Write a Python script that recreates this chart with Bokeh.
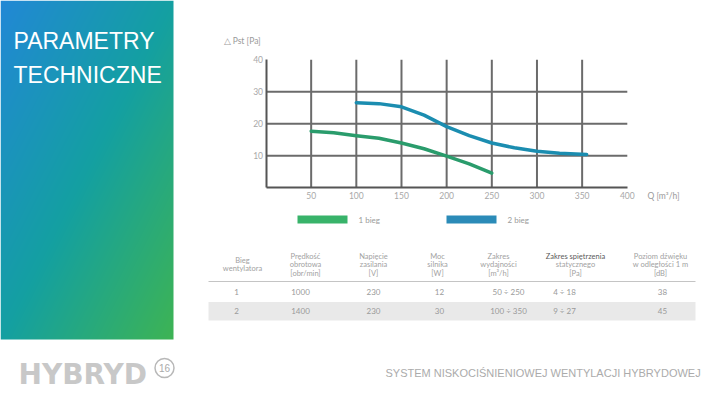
import numpy as np
from bokeh.plotting import figure
from bokeh.models import Range1d, LinearAxis, FixedTicker
from bokeh.core.properties import value
from bokeh.embed import file_html
from bokeh.resources import INLINE

# ---------------- chart data ----------------
q_bieg1 = [50, 75, 100, 125, 150, 175, 200, 225, 250]
p_bieg1 = [17.7, 17.2, 16.3, 15.5, 14.0, 12.2, 9.9, 7.5, 4.6]
q_bieg2 = [100, 125, 150, 175, 200, 225, 250, 275, 300, 325, 355]
p_bieg2 = [26.6, 26.3, 25.3, 22.7, 19.1, 16.3, 14.0, 12.5, 11.4, 10.8, 10.4]
series_names = ["1 bieg", "2 bieg"]
x_ticks = [50, 100, 150, 200, 250, 300, 350, 400]
y_ticks = [10, 20, 30, 40]
x_title = "Q [m³/h]"
y_title = "△ Pst [Pa]"

# ---------------- table data ----------------
table_header = [
    ["Bieg", "wentylatora"],
    ["Prędkość", "obrotowa", "[obr/min]"],
    ["Napięcie", "zasilania", "[V]"],
    ["Moc", "silnika", "[W]"],
    ["Zakres", "wydajności", "[m³/h]"],
    ["Zakres spiętrzenia", "statycznego", "[Pa]"],
    ["Poziom dźwięku", "w odległości 1 m", "[dB]"],
]
col_bieg = ["1", "2"]
col_speed = ["1000", "1400"]
col_voltage = ["230", "230"]
col_power = ["12", "30"]
col_flow = ["50 ÷ 250", "100 ÷ 350"]
col_pressure = ["4 ÷ 18", "9 ÷ 27"]
col_noise = ["38", "45"]

title_lines = ["PARAMETRY", "TECHNICZNE"]
brand = "HYBRYD"
page_no = "16"
footer = "SYSTEM NISKOCIŚNIENIOWEJ WENTYLACJI HYBRYDOWEJ"

# ---------------- layout (page pixels) ----------------
W, H = 704, 389
QX0, QX1 = 265.5, 626.8     # page x of Q = 0 and Q = 400
PY0, PY1 = 187.3, 59.3      # page y of P = 0 and P = 40
q_min, q_max = 0, 400
p_min, p_max = 0, 40


def q_at(px):
    return q_min + (px - QX0) * (q_max - q_min) / (QX1 - QX0)


def p_at(py):
    return p_min + (py - PY0) * (p_max - p_min) / (PY1 - PY0)


p = figure(width=W, height=H,
           x_range=Range1d(0, W), y_range=Range1d(H, 0),
           x_axis_type=None, y_axis_type=None,
           output_backend="svg", toolbar_location=None,
           min_border=0, outline_line_color=None,
           background_fill_color="white", border_fill_color="white")
p.extra_x_ranges = {"q": Range1d(q_at(0), q_at(W))}
p.extra_y_ranges = {"p": Range1d(p_at(H), p_at(0))}

# ---------------- sidebar gradient ----------------
SB_W, SB_H = 173, 339
yy, xx = np.mgrid[0:SB_H, 0:SB_W]
t = 0.5 * xx / SB_W + 0.5 * yy / SB_H
stops_t = [0.0, 0.5, 1.0]
stops_c = np.array([[34, 136, 214], [20, 160, 162], [62, 180, 84]], dtype=float)
img = np.zeros((SB_H, SB_W), dtype=np.uint32)
view = img.view(dtype=np.uint8).reshape((SB_H, SB_W, 4))
for ch in range(3):
    view[:, :, ch] = np.interp(t, stops_t, stops_c[:, ch]).astype(np.uint8)
view[:, :, 3] = 255
p.image_rgba(image=[img], x=0, y=0, dw=SB_W, dh=SB_H)

p.text(x=[13, 13], y=[40.5, 74], text=title_lines,
       text_font=value("Liberation Sans"), text_font_size="23px",
       text_color="white", text_baseline="middle", text_align="left")

# ---------------- brand / footer ----------------
p.text(x=[18], y=[373.5], text=[brand], text_font=value("DejaVu Sans"),
       text_font_size="28px", text_font_style="bold", text_color="#c8c8c8",
       text_baseline="middle", text_align="left")
p.scatter(x=[164], y=[367.5], size=19, marker="circle", fill_color=None,
          line_color="#b8b8b8", line_width=1.5)
p.text(x=[164], y=[367.5], text=[page_no], text_font=value("Liberation Sans"),
       text_font_size="10px", text_color="#aaaaaa",
       text_baseline="middle", text_align="center")
p.text(x=[385], y=[372.5], text=[footer], text_font=value("Liberation Sans"),
       text_font_size="11px", text_color="#ababab",
       text_baseline="middle", text_align="left")

# ---------------- chart grid ----------------
grid_x = [v for v in x_ticks if v < q_max]
grid_y = [v for v in y_ticks if v < p_max]
p.segment(x0=grid_x, y0=[p_min] * len(grid_x), x1=grid_x, y1=[p_max] * len(grid_x),
          x_range_name="q", y_range_name="p", line_color="#6b6b6b", line_width=2)
p.segment(x0=[q_min] * len(grid_y), y0=grid_y, x1=[q_max] * len(grid_y), y1=grid_y,
          x_range_name="q", y_range_name="p", line_color="#6b6b6b", line_width=2)

xaxis = LinearAxis(x_range_name="q", y_range_name="p", fixed_location=0,
                   bounds=(q_min, q_max), ticker=FixedTicker(ticks=x_ticks))
yaxis = LinearAxis(x_range_name="q", y_range_name="p", fixed_location=0,
                   bounds=(p_min, p_max), ticker=FixedTicker(ticks=y_ticks))
for ax in (xaxis, yaxis):
    ax.axis_line_color = "#555555"
    ax.axis_line_width = 2
    ax.major_tick_line_color = None
    ax.minor_tick_line_color = None
    ax.major_tick_out = 0
    ax.major_tick_in = 0
    ax.minor_tick_out = 0
    ax.major_label_text_font = "Lato"
    ax.major_label_text_font_size = "8.5px"
    ax.major_label_text_color = "#a8a8a8"
xaxis.major_label_standoff = 4
yaxis.major_label_standoff = 3
p.add_layout(xaxis, "below")
p.add_layout(yaxis, "left")

# ---------------- curves ----------------
green_line, blue_line = "#2a9c6c", "#1b8db0"
green_leg, blue_leg = "#38b36a", "#2b8bb8"
p.line(q_bieg1, p_bieg1, x_range_name="q", y_range_name="p",
       line_color=green_line, line_width=3.5, line_cap="round", line_join="round")
p.line(q_bieg2, p_bieg2, x_range_name="q", y_range_name="p",
       line_color=blue_line, line_width=3.5, line_cap="round", line_join="round")

# axis titles
p.text(x=[223], y=[40], text=[y_title], text_font=value("Lato"),
       text_font_size="8.5px", text_color="#9a9a9a",
       text_baseline="middle", text_align="left")
p.text(x=[647], y=[195], text=[x_title], text_font=value("Lato"),
       text_font_size="8.5px", text_color="#9a9a9a",
       text_baseline="middle", text_align="left")

# ---------------- legend ----------------
leg_x = [297, 446]
p.quad(left=leg_x, right=[v + 50 for v in leg_x], top=[215, 215], bottom=[223, 223],
       fill_color=[green_leg, blue_leg], line_color=None)
p.text(x=[v + 61 for v in leg_x], y=[219.5, 219.5], text=series_names,
       text_font=value("Lato"), text_font_size="8px", text_color="#9a9a9a",
       text_baseline="middle", text_align="left")

# ---------------- table ----------------
TBL_L, TBL_R = 208, 695
head_cx = [242, 305, 373, 437, 498, 575, 660]
val_cx = [236, 300, 373, 439, 508, 564, 662]
HEAD_MID, LINE_H = 264, 8.5
row_y = [291, 310.5]

p.quad(left=[TBL_L], right=[TBL_R], top=[301.5], bottom=[320],
       fill_color="#e9e9e9", line_color=None)
p.segment(x0=[TBL_L], y0=[281], x1=[TBL_R], y1=[281], line_color="#c4c4c4", line_width=1)

hx, hy, ht, hc = [], [], [], []
for i, lines in enumerate(table_header):
    n = len(lines)
    for k, line in enumerate(lines):
        hx.append(head_cx[i])
        hy.append(HEAD_MID + (k - (n - 1) / 2) * LINE_H)
        ht.append(line)
        hc.append("#5a5a5a" if (i == 5 and k == 0) else "#a2a2a2")
p.text(x=hx, y=hy, text=ht, text_color=hc, text_font=value("Lato"),
       text_font_size="7.5px", text_baseline="middle", text_align="center")

columns = [col_bieg, col_speed, col_voltage, col_power, col_flow, col_pressure, col_noise]
vx, vy, vt = [], [], []
for i, col in enumerate(columns):
    for r, v in enumerate(col):
        vx.append(val_cx[i])
        vy.append(row_y[r])
        vt.append(v)
p.text(x=vx, y=vy, text=vt, text_color="#9a9a9a", text_font=value("Lato"),
       text_font_size="8px", text_baseline="middle", text_align="center")

open("out.html", "w").write(file_html(p, INLINE))
